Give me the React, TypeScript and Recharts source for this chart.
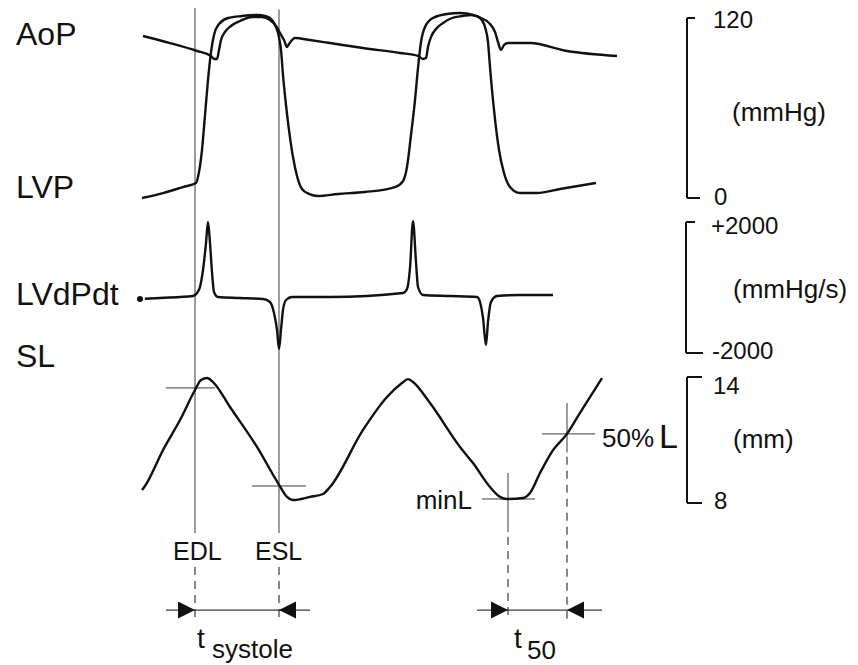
import React from 'react';
import { LineChart, Line, XAxis, YAxis, ReferenceLine, ReferenceDot } from 'recharts';

// time in ms, pressures in mmHg, dP/dt in mmHg/s, segment length in mm
const AOP: [number, number][] = [
  [286, 108], [340, 103.3], [394, 98], [422, 94.7], [428, 92.7], [434, 92.7], [438, 98.7],
  [442, 105.3], [450, 110.7], [462, 114.7], [480, 118], [504, 120.7], [524, 120.7], [540, 118.7],
  [552, 114.7], [560, 110], [568, 105.3], [574, 100.7], [578, 102.7], [590, 106.7], [620, 105.3],
  [660, 103.3], [726, 100], [800, 96.7], [836, 94.7], [846, 92.7], [852, 93.3], [856, 100.7],
  [862, 107.3], [872, 112.7], [886, 116.7], [904, 120], [924, 121.3], [944, 122], [962, 120],
  [978, 116.7], [990, 110.7], [996, 104], [1002, 98.7], [1008, 102], [1016, 103.3], [1060, 103.3],
  [1134, 98], [1234, 94.7],
];

const LVP: [number, number][] = [
  [284, 0], [326, 3.3], [366, 7.3], [392, 10], [398, 17.3], [404, 32], [410, 55.3], [416, 78.7],
  [422, 97.3], [428, 108.7], [438, 116], [456, 120], [484, 121.3], [514, 122], [532, 121.3],
  [544, 118.7], [552, 114], [558, 107.3], [562, 98.7], [566, 82], [572, 62], [578, 45.3],
  [586, 27.3], [594, 14.7], [604, 6], [618, 2.7], [636, 1.3], [676, 2.7], [730, 4], [790, 7.3],
  [806, 11.3], [814, 20.7], [822, 42], [830, 65.3], [836, 86.7], [842, 104], [850, 114],
  [866, 120], [894, 122.7], [920, 123.3], [946, 122], [960, 120], [970, 114], [976, 104],
  [980, 87.3], [988, 58.7], [998, 32], [1008, 16.7], [1020, 7.3], [1040, 3.3], [1074, 3.3],
  [1120, 6], [1192, 10],
];

const DPDT: [number, number][] = [
  [280, -351], [320, -320], [386, -259], [394, -168], [400, 15], [406, 534], [412, 1357], [416, 1998],
  [420, 1357], [424, 473], [428, -137], [436, -290], [480, -320], [526, -351], [540, -442],
  [548, -778], [554, -1296], [558, -1876], [562, -1296], [566, -686], [572, -381], [584, -290],
  [660, -290], [806, -168], [814, -46], [820, 595], [826, 2028], [832, 778], [836, 15],
  [846, -229], [900, -259], [954, -290], [960, -442], [966, -930], [972, -1754], [976, -1052],
  [982, -442], [994, -259], [1040, -229], [1106, -229],
];

const SL: [number, number][] = [
  [284, 8.62], [290, 8.81], [326, 10.52], [360, 11.95], [390, 13.38], [402, 13.86], [414, 13.95],
  [426, 13.76], [460, 12.57], [514, 10.67], [556, 8.95], [574, 8.29], [586, 8.14], [620, 8.29],
  [646, 8.43], [660, 8.76], [726, 11.48], [774, 13.05], [804, 13.71], [816, 13.9], [826, 13.76],
  [860, 12.76], [920, 10.67], [946, 9.9], [980, 8.76], [1000, 8.29], [1014, 8.19], [1046, 8.24],
  [1060, 8.48], [1080, 9.43], [1106, 10.52], [1134, 11.29], [1160, 12.29], [1204, 13.95],
];

// scale brackets
const P_RANGE = [0, 120];
const D_RANGE = [-2000, 2000];
const L_RANGE = [8, 14];

// event times (ms)
const T_EDL = 390;
const T_ESL = 558;
const T_MINL = 1016;
const T_50 = 1134;

// crosshair levels on SL (mm)
const L_EDL = 13.48;
const L_ESL = 8.81;
const L_MIN = 8.19;
const L_50 = 11.29;

const W = 858;
const H = 665;
const T_MAX = 1716;

// map a bracket range onto the pixel rows it occupies in the figure
const fitDomain = (lo: number, hi: number, yLo: number, yHi: number): [number, number] => {
  const k = (hi - lo) / (yLo - yHi);
  return [lo - (H - yLo) * k, hi + yHi * k];
};

const toRows = (arr: [number, number][]) => arr.map(([t, v]) => ({ t, v }));

const INK = '#111';
const THIN = '#3a3a3a';
const FONT = '"Liberation Sans", Arial, Helvetica, sans-serif';

const Tri = ({ cx, cy, dir }: { cx?: number; cy?: number; dir: 'r' | 'l' }) => {
  if (cx == null || cy == null) return null;
  const w = 17;
  const h = 8.5;
  const bx = dir === 'r' ? cx - w : cx + w;
  return <polygon points={`${bx},${cy - h} ${cx},${cy} ${bx},${cy + h}`} fill={INK} />;
};

const vSolid = [
  { t: T_EDL, a: 31.57, b: 6.57 },
  { t: T_ESL, a: 31.5, b: 6.57 },
  { t: T_MINL, a: 9.43, b: 6.62 },
  { t: T_50, a: 12.76, b: 10.4 },
];
const vDashed = [
  { t: T_EDL, a: 4.95, b: 2.43 },
  { t: T_ESL, a: 4.95, b: 2.43 },
  { t: T_MINL, a: 6.38, b: 2.43 },
  { t: T_50, a: 10.2, b: 2.43 },
];
const crosses = [
  { t0: 332, t1: 430, y: L_EDL },
  { t0: 504, t1: 612, y: L_ESL },
  { t0: 964, t1: 1070, y: L_MIN },
  { t0: 1084, t1: 1190, y: L_50 },
];
const ARROW_Y = 2.9;
const intervals = [
  { t0: 332, t1: 620, a: T_EDL, b: T_ESL },
  { t0: 954, t1: 1204, a: T_MINL, b: T_50 },
];

const App = () => {
  const pDom = fitDomain(P_RANGE[0], P_RANGE[1], 198, 18);
  const dDom = fitDomain(D_RANGE[0], D_RANGE[1], 353, 222);
  const lDom = fitDomain(L_RANGE[0], L_RANGE[1], 503, 377);
  const BR = 1374;

  const txt = (x: number, y: number, s: string, size = 26, anchor: 'start' | 'end' = 'start') => (
    <text x={x} y={y} fontSize={size} fontFamily={FONT} fill={INK} textAnchor={anchor}>
      {s}
    </text>
  );

  return (
    <div style={{ position: 'absolute', left: 0, top: 0, width: W, height: H, background: '#fff' }}>
      <LineChart width={W} height={H} margin={{ top: 0, right: 0, bottom: 0, left: 0 }}>
        <XAxis dataKey="t" type="number" domain={[0, T_MAX]} allowDataOverflow hide />
        <YAxis yAxisId="p" type="number" domain={pDom} allowDataOverflow hide />
        <YAxis yAxisId="d" type="number" domain={dDom} allowDataOverflow hide />
        <YAxis yAxisId="l" type="number" domain={lDom} allowDataOverflow hide />

        {vSolid.map((s, i) => (
          <ReferenceLine key={'vs' + i} yAxisId="l" segment={[{ x: s.t, y: s.a }, { x: s.t, y: s.b }]} stroke={THIN} strokeWidth={1} />
        ))}
        {vDashed.map((s, i) => (
          <ReferenceLine key={'vd' + i} yAxisId="l" segment={[{ x: s.t, y: s.a }, { x: s.t, y: s.b }]} stroke={THIN} strokeWidth={1.2} strokeDasharray="8 6" />
        ))}
        {crosses.map((c, i) => (
          <ReferenceLine key={'c' + i} yAxisId="l" segment={[{ x: c.t0, y: c.y }, { x: c.t1, y: c.y }]} stroke={THIN} strokeWidth={1} />
        ))}
        {intervals.map((c, i) => (
          <ReferenceLine key={'iv' + i} yAxisId="l" segment={[{ x: c.t0, y: ARROW_Y }, { x: c.t1, y: ARROW_Y }]} stroke={THIN} strokeWidth={1.3} />
        ))}
        {intervals.map((c, i) => (
          <ReferenceDot key={'ra' + i} yAxisId="l" x={c.a} y={ARROW_Y} r={1} shape={(p: any) => <Tri cx={p.cx} cy={p.cy} dir="r" />} />
        ))}
        {intervals.map((c, i) => (
          <ReferenceDot key={'la' + i} yAxisId="l" x={c.b} y={ARROW_Y} r={1} shape={(p: any) => <Tri cx={p.cx} cy={p.cy} dir="l" />} />
        ))}

        {/* scale brackets */}
        <ReferenceLine yAxisId="p" segment={[{ x: BR, y: P_RANGE[0] }, { x: BR, y: P_RANGE[1] }]} stroke={INK} strokeWidth={2} />
        <ReferenceLine yAxisId="p" segment={[{ x: BR, y: P_RANGE[1] }, { x: 1390, y: P_RANGE[1] }]} stroke={INK} strokeWidth={2} />
        <ReferenceLine yAxisId="p" segment={[{ x: BR, y: P_RANGE[0] }, { x: 1400, y: P_RANGE[0] }]} stroke={INK} strokeWidth={2} />
        <ReferenceLine yAxisId="d" segment={[{ x: 1372, y: D_RANGE[0] }, { x: 1372, y: D_RANGE[1] }]} stroke={INK} strokeWidth={2} />
        <ReferenceLine yAxisId="d" segment={[{ x: 1372, y: D_RANGE[1] }, { x: 1390, y: D_RANGE[1] }]} stroke={INK} strokeWidth={2} />
        <ReferenceLine yAxisId="d" segment={[{ x: 1372, y: D_RANGE[0] }, { x: 1406, y: D_RANGE[0] }]} stroke={INK} strokeWidth={2} />
        <ReferenceLine yAxisId="l" segment={[{ x: BR, y: L_RANGE[0] }, { x: BR, y: L_RANGE[1] }]} stroke={INK} strokeWidth={2} />
        <ReferenceLine yAxisId="l" segment={[{ x: BR, y: L_RANGE[1] }, { x: 1404, y: L_RANGE[1] }]} stroke={INK} strokeWidth={2} />
        <ReferenceLine yAxisId="l" segment={[{ x: BR, y: L_RANGE[0] }, { x: 1404, y: L_RANGE[0] }]} stroke={INK} strokeWidth={2} />

        <Line data={toRows(AOP)} dataKey="v" yAxisId="p" type="monotone" stroke={INK} strokeWidth={2.4} dot={false} isAnimationActive={false} />
        <Line data={toRows(LVP)} dataKey="v" yAxisId="p" type="monotone" stroke={INK} strokeWidth={2.4} dot={false} isAnimationActive={false} />
        <Line data={toRows(DPDT)} dataKey="v" yAxisId="d" type="monotone" stroke={INK} strokeWidth={2.4} dot={false} isAnimationActive={false} />
        <Line data={toRows(SL)} dataKey="v" yAxisId="l" type="monotone" stroke={INK} strokeWidth={2.4} dot={false} isAnimationActive={false} />
      </LineChart>

      <svg width={W} height={H} style={{ position: 'absolute', left: 0, top: 0, pointerEvents: 'none' }}>
        {txt(16, 45, 'AoP', 32)}
        {txt(16, 198, 'LVP', 32)}
        {txt(16, 305, 'LVdPdt', 32)}
        {txt(16, 367, 'SL', 32)}

        {txt(713, 28, '120', 24)}
        {txt(732, 121, '(mmHg)')}
        {txt(714, 205, '0', 24)}
        {txt(711, 234, '+2000', 24)}
        {txt(733, 298, '(mmHg/s)')}
        {txt(712, 359, '-2000', 24)}
        {txt(713, 394, '14', 24)}
        {txt(733, 448, '(mm)')}
        {txt(714, 509, '8', 24)}

        {txt(602, 447, '50%')}
        {txt(659, 448, 'L', 34)}
        {txt(472, 509, 'minL', 26, 'end')}
        {txt(173, 560, 'EDL', 25)}
        {txt(255, 560, 'ESL', 25)}

        {txt(197, 648, 't', 28)}
        {txt(212, 658, 'systole', 26)}
        {txt(514, 648, 't', 28)}
        {txt(527, 659, '50', 26)}
      </svg>
    </div>
  );
};

export default App;
